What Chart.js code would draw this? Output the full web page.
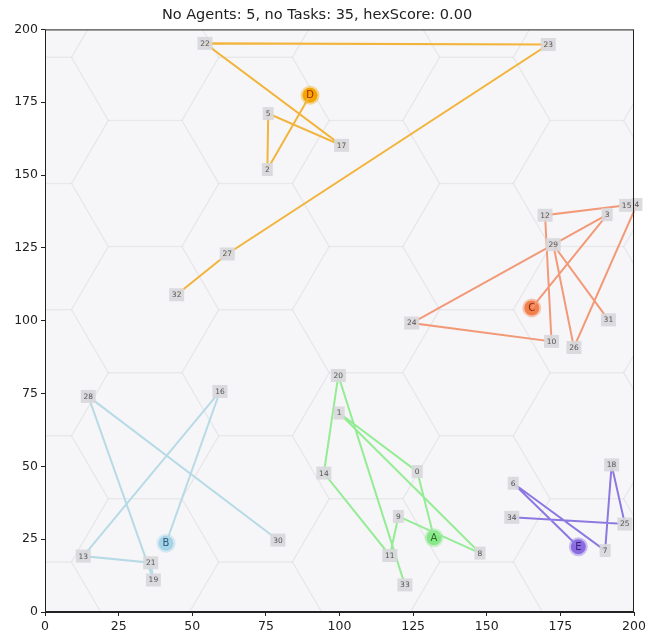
<!DOCTYPE html>
<html>
<head>
<meta charset="utf-8">
<script src="https://cdn.jsdelivr.net/npm/chart.js@4"></script>
<style>
  body { margin: 0; background: #ffffff; }
</style>
</head>
<body>
<canvas id="myChart" width="652" height="638"></canvas>
<script>
// Task positions (index = task number)
const taskX = [126.4, 99.9, 75.5, 190.9, 201.0, 75.8, 159.0, 190.2, 147.7, 120.0,
               172.0, 117.1, 169.8, 13.0, 94.7, 197.5, 59.4, 100.7, 192.4, 36.8,
               99.6, 35.9, 54.3, 170.9, 124.5, 196.9, 179.6, 61.9, 14.7, 172.6,
               79.1, 191.3, 44.7, 122.2, 158.5];
const taskY = [48.2, 68.3, 151.9, 136.4, 139.9, 171.1, 44.2, 21.1, 20.2, 32.8,
               92.9, 19.4, 136.2, 19.2, 47.7, 139.6, 75.7, 160.2, 50.5, 11.0,
               81.2, 16.9, 195.2, 194.8, 99.2, 30.2, 90.8, 122.9, 74.0, 126.1,
               24.7, 100.3, 108.9, 9.3, 32.5];

// Agents
const agentNames = ['A', 'B', 'C', 'D', 'E'];
const agentX = [132.1, 41.1, 165.3, 90.0, 181.1];
const agentY = [25.5, 23.6, 104.4, 177.4, 22.4];

// Task order per agent
const routes = [
    [0, 1, 8, 9, 11, 14, 20, 33],
    [16, 13, 21, 19, 28, 30],
    [3, 24, 10, 12, 15, 4, 26, 29, 31],
    [2, 5, 17, 22, 23, 27, 32],
    [6, 7, 18, 25, 34]
];

const lineColors = ['#94ec94', '#b6dbe6', '#f29a78', '#f2b43a', '#8c78e0'];
const agentColors = ['#88e888', '#a6d4e8', '#f2804e', '#f2a600', '#8a6ce0'];
const letterColors = ['#2a6e2a', '#2a5a7a', '#8a2a10', '#b02000', '#3a2080'];

const xTicks = [0, 25, 50, 75, 100, 125, 150, 175, 200];
const yTicks = [0, 25, 50, 75, 100, 125, 150, 175, 200];

// build datasets
const datasets = [];
for (let a = 0; a < agentNames.length; a++) {
    const pts = [{x: agentX[a], y: agentY[a]}];
    routes[a].forEach(t => pts.push({x: taskX[t], y: taskY[t]}));
    datasets.push({
        data: pts,
        showLine: true,
        borderColor: lineColors[a],
        borderWidth: 2,
        pointRadius: 0,
        clip: 3
    });
}
datasets.push({
    data: agentNames.map((n, i) => ({x: agentX[i], y: agentY[i]})),
    pointRadius: 7.5,
    pointHoverRadius: 7.5,
    backgroundColor: agentColors,
    borderColor: agentColors.map(c => c + '66'),
    borderWidth: 4
});

// hexagon background + frame
const hexPlugin = {
    id: 'hexPlugin',
    beforeDatasetsDraw(chart) {
        const {ctx, chartArea, scales} = chart;
        ctx.save();
        ctx.fillStyle = '#f6f5f8';
        ctx.fillRect(chartArea.left, chartArea.top, chartArea.width, chartArea.height);
        ctx.beginPath();
        ctx.rect(chartArea.left, chartArea.top, chartArea.width, chartArea.height);
        ctx.clip();
        ctx.strokeStyle = 'rgba(0,0,0,0.028)';
        ctx.lineWidth = 1.5;
        const s = 25, h = 21.65;
        for (let k = -1; k <= 6; k++) {
            const cx = 34 + 37.5 * k;
            const cy0 = 103.8 + (Math.abs(k % 2) === 1 ? h : 0);
            for (let j = -4; j <= 4; j++) {
                const cy = cy0 + 2 * h * j;
                const vx = [cx + s, cx + s / 2, cx - s / 2, cx - s, cx - s / 2, cx + s / 2];
                const vy = [cy, cy + h, cy + h, cy, cy - h, cy - h];
                ctx.beginPath();
                for (let v = 0; v < 6; v++) {
                    const px = scales.x.getPixelForValue(vx[v]);
                    const py = scales.y.getPixelForValue(vy[v]);
                    if (v === 0) ctx.moveTo(px, py); else ctx.lineTo(px, py);
                }
                ctx.closePath();
                ctx.stroke();
            }
        }
        ctx.restore();
    },
    afterDatasetsDraw(chart) {
        const {ctx, chartArea, scales} = chart;
        ctx.save();
        // task labels
        ctx.font = '7.5px "DejaVu Sans"';
        ctx.textAlign = 'center';
        ctx.textBaseline = 'middle';
        for (let t = 0; t < taskX.length; t++) {
            const px = scales.x.getPixelForValue(taskX[t]);
            const py = scales.y.getPixelForValue(taskY[t]);
            const w = String(t).length > 1 ? 15 : 11;
            ctx.fillStyle = 'rgba(216,216,220,0.9)';
            ctx.fillRect(px - w / 2, py - 6.5, w, 13);
            ctx.fillStyle = '#555';
            ctx.fillText(String(t), px, py + 0.5);
        }
        // agent letters
        ctx.font = '10px "DejaVu Sans"';
        for (let a = 0; a < agentNames.length; a++) {
            const px = scales.x.getPixelForValue(agentX[a]);
            const py = scales.y.getPixelForValue(agentY[a]);
            ctx.fillStyle = letterColors[a];
            ctx.fillText(agentNames[a], px, py + 0.5);
        }
        // frame
        ctx.strokeStyle = '#222';
        ctx.lineWidth = 1;
        ctx.strokeRect(chartArea.left + 0.5, chartArea.top + 0.5, chartArea.width - 1, chartArea.height - 1);
        ctx.restore();
    }
};

const ctx = document.getElementById('myChart').getContext('2d');
const myChart = new Chart(ctx, {
    type: 'scatter',
    data: { datasets: datasets },
    options: {
        responsive: false,
        animation: false,
        layout: { padding: { left: 0, right: 18, top: 0, bottom: 0 } },
        scales: {
            x: {
                type: 'linear',
                min: 0,
                max: 200,
                afterBuildTicks: (scale) => { scale.ticks = xTicks.map(v => ({value: v})); },
                afterFit: (scale) => { scale.height = 26; },
                grid: { drawOnChartArea: false, tickLength: 4, color: '#222' },
                border: { color: '#222' },
                ticks: { color: '#222', padding: 3, font: { family: 'DejaVu Sans', size: 12.5 }, maxRotation: 0 }
            },
            y: {
                type: 'linear',
                min: 0,
                max: 200,
                afterBuildTicks: (scale) => { scale.ticks = yTicks.map(v => ({value: v})); },
                afterFit: (scale) => { scale.width = 45; },
                grid: { drawOnChartArea: false, tickLength: 4, color: '#222' },
                border: { color: '#222' },
                ticks: { color: '#222', padding: 3, font: { family: 'DejaVu Sans', size: 12.5 } }
            }
        },
        plugins: {
            legend: { display: false },
            tooltip: { enabled: false },
            title: {
                display: true,
                text: 'No Agents: 5, no Tasks: 35, hexScore: 0.00',
                color: '#222',
                font: { family: 'DejaVu Sans', size: 14.5, weight: 'normal' },
                padding: { top: 7, bottom: 5 }
            }
        }
    },
    plugins: [hexPlugin]
});
</script>
</body>
</html>
